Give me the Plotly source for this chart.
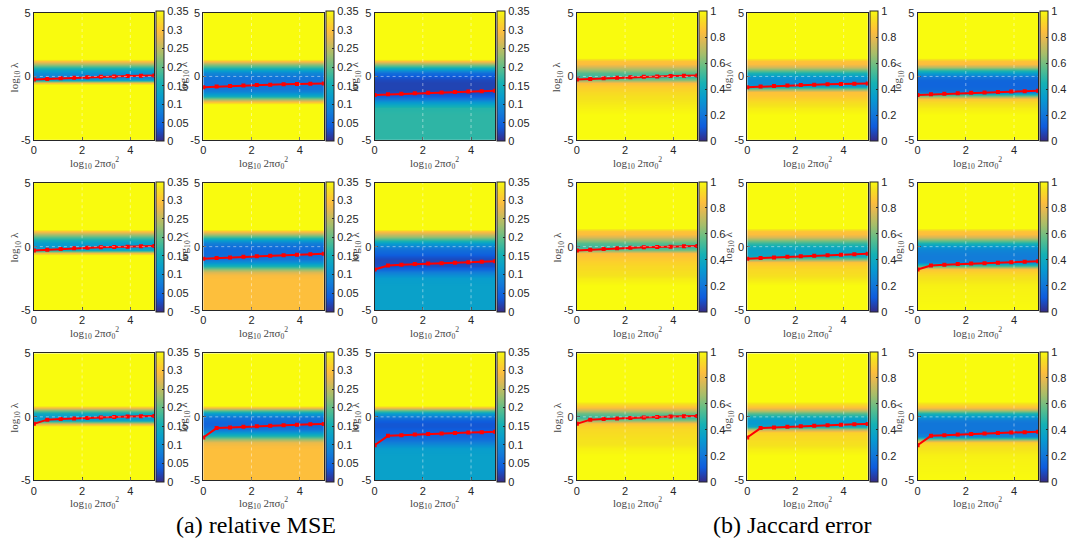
import plotly.graph_objects as go

# ---------------- data ----------------
# log10 lambda levels at which each heat-map profile is sampled (rows)
LAM = [-5, -3, -2.5, -2.25, -2, -1.75, -1.5, -1.25, -1, -0.75, -0.5, -0.25,
       0, 0.25, 0.5, 0.75, 1, 1.25, 1.5, 5]
# log10 2*pi*sigma0^2 columns of the heat maps
SIG_COLS = [0, 5]
# sigma positions of the optimum curve markers
SIG_PTS = [0, 0.556, 1.111, 1.667, 2.222, 2.778, 3.333, 3.889, 4.444, 5]

# relative MSE profiles (rows x cols of the 3x3 block)
mse_r1c1 = [0.4, 0.4, 0.4, 0.4, 0.4, 0.4, 0.4, 0.4, 0.4, 0.4, 0.3, 0.12, 0.08, 0.1, 0.13, 0.18, 0.24, 0.3, 0.4, 0.4]
mse_r1c2 = [0.4, 0.4, 0.4, 0.37, 0.3, 0.22, 0.14, 0.09, 0.07, 0.065, 0.065, 0.065, 0.07, 0.09, 0.13, 0.18, 0.23, 0.3, 0.4, 0.4]
mse_r1c3 = [0.17, 0.17, 0.165, 0.14, 0.11, 0.07, 0.04, 0.025, 0.02, 0.02, 0.02, 0.025, 0.035, 0.06, 0.11, 0.17, 0.23, 0.3, 0.4, 0.4]
mse_r2c1 = [0.4, 0.4, 0.4, 0.4, 0.4, 0.4, 0.4, 0.4, 0.4, 0.38, 0.3, 0.14, 0.11, 0.12, 0.15, 0.19, 0.24, 0.3, 0.4, 0.4]
mse_r2c2 = [0.295, 0.295, 0.295, 0.29, 0.27, 0.22, 0.16, 0.1, 0.07, 0.06, 0.055, 0.055, 0.06, 0.08, 0.12, 0.18, 0.24, 0.3, 0.4, 0.4]
mse_r2c3 = [0.125, 0.125, 0.12, 0.1, 0.08, 0.05, 0.03, 0.025, 0.025, 0.035, 0.05, 0.06, 0.08, 0.12, 0.17, 0.22, 0.26, 0.3, 0.4, 0.4]
mse_r3c1 = [0.4, 0.4, 0.4, 0.4, 0.4, 0.4, 0.4, 0.4, 0.4, 0.36, 0.26, 0.13, 0.11, 0.14, 0.21, 0.3, 0.4, 0.4, 0.4, 0.4]
mse_r3c2 = [0.295, 0.295, 0.295, 0.29, 0.28, 0.23, 0.17, 0.11, 0.07, 0.055, 0.05, 0.055, 0.07, 0.12, 0.2, 0.3, 0.4, 0.4, 0.4, 0.4]
mse_r3c3 = [0.125, 0.125, 0.12, 0.1, 0.08, 0.06, 0.05, 0.045, 0.04, 0.035, 0.035, 0.045, 0.07, 0.12, 0.2, 0.3, 0.4, 0.4, 0.4, 0.4]

# Jaccard error profiles
jac_r1c1 = [1, 1, 0.98, 0.97, 0.96, 0.95, 0.94, 0.92, 0.9, 0.88, 0.84, 0.62, 0.5, 0.55, 0.65, 0.75, 0.84, 0.86, 1, 1]
jac_r1c2 = [1, 1, 0.97, 0.95, 0.93, 0.9, 0.87, 0.85, 0.6, 0.32, 0.28, 0.28, 0.32, 0.45, 0.6, 0.75, 0.84, 0.86, 1, 1]
jac_r1c3 = [1, 1, 0.97, 0.95, 0.92, 0.87, 0.6, 0.2, 0.15, 0.14, 0.14, 0.15, 0.2, 0.35, 0.5, 0.7, 0.84, 0.86, 1, 1]
jac_r2c1 = [1, 1, 0.97, 0.95, 0.94, 0.93, 0.92, 0.9, 0.88, 0.86, 0.84, 0.6, 0.5, 0.55, 0.65, 0.76, 0.84, 0.86, 1, 1]
jac_r2c2 = [1, 1, 0.96, 0.94, 0.93, 0.92, 0.9, 0.86, 0.6, 0.4, 0.37, 0.37, 0.4, 0.5, 0.62, 0.76, 0.84, 0.86, 1, 1]
jac_r2c3 = [1, 0.98, 0.95, 0.93, 0.9, 0.86, 0.55, 0.25, 0.22, 0.22, 0.23, 0.25, 0.3, 0.45, 0.6, 0.75, 0.84, 0.86, 1, 1]
jac_r3c1 = [1, 1, 0.98, 0.96, 0.95, 0.95, 0.94, 0.93, 0.92, 0.9, 0.86, 0.62, 0.5, 0.58, 0.72, 0.85, 0.92, 1, 1, 1]
jac_r3c2 = [1, 1, 0.97, 0.95, 0.94, 0.93, 0.92, 0.9, 0.7, 0.38, 0.33, 0.33, 0.4, 0.55, 0.72, 0.85, 0.92, 1, 1, 1]
jac_r3c3 = [1, 0.98, 0.95, 0.93, 0.9, 0.6, 0.25, 0.2, 0.2, 0.2, 0.2, 0.22, 0.3, 0.45, 0.68, 0.85, 0.92, 1, 1, 1]

# optimum lambda curves (same for both metrics)
opt_r1c1 = [-0.25, -0.2, -0.15, -0.1, -0.06, -0.02, 0.0, 0.03, 0.05, 0.08]
opt_r1c2 = [-0.85, -0.8, -0.76, -0.72, -0.68, -0.65, -0.62, -0.6, -0.57, -0.55]
opt_r1c3 = [-1.45, -1.41, -1.37, -1.33, -1.29, -1.26, -1.22, -1.19, -1.16, -1.13]
opt_r2c1 = [-0.3, -0.24, -0.18, -0.13, -0.09, -0.05, -0.02, 0.0, 0.03, 0.05]
opt_r2c2 = [-0.95, -0.9, -0.85, -0.8, -0.76, -0.72, -0.68, -0.64, -0.6, -0.55]
opt_r2c3 = [-1.8, -1.48, -1.42, -1.37, -1.33, -1.3, -1.26, -1.22, -1.18, -1.15]
opt_r3c1 = [-0.55, -0.22, -0.17, -0.12, -0.08, -0.05, -0.01, 0.02, 0.05, 0.07]
opt_r3c2 = [-1.62, -0.88, -0.83, -0.78, -0.74, -0.7, -0.66, -0.62, -0.59, -0.56]
opt_r3c3 = [-2.23, -1.49, -1.44, -1.39, -1.35, -1.31, -1.27, -1.23, -1.2, -1.17]

X_TICKS = [0, 2, 4]
Y_TICKS = [-5, 0, 5]
Y_TICKTEXT = ["-5", "0", "5"]
MSE_CB_TICKS = [0, 0.05, 0.1, 0.15, 0.2, 0.25, 0.3, 0.35]
MSE_CB_TEXT = ["0", "0.05", "0.1", "0.15", "0.2", "0.25", "0.3", "0.35"]
JAC_CB_TICKS = [0, 0.2, 0.4, 0.6, 0.8, 1]
JAC_CB_TEXT = ["0", "0.2", "0.4", "0.6", "0.8", "1"]
CAPTIONS = ["(a) relative MSE", "(b) Jaccard error"]

MSE = [[mse_r1c1, mse_r1c2, mse_r1c3], [mse_r2c1, mse_r2c2, mse_r2c3], [mse_r3c1, mse_r3c2, mse_r3c3]]
JAC = [[jac_r1c1, jac_r1c2, jac_r1c3], [jac_r2c1, jac_r2c2, jac_r2c3], [jac_r3c1, jac_r3c2, jac_r3c3]]
OPT = [[opt_r1c1, opt_r1c2, opt_r1c3], [opt_r2c1, opt_r2c2, opt_r2c3], [opt_r3c1, opt_r3c2, opt_r3c3]]

# ---------------- styling / layout ----------------
PARULA = [
    [0.0, "#352a87"], [0.111, "#0f5cdd"], [0.222, "#127dd8"], [0.333, "#079ccf"],
    [0.444, "#15b1b4"], [0.556, "#59bd8c"], [0.667, "#a5be6b"], [0.778, "#e1b952"],
    [0.841, "#fdbe3d"], [0.889, "#fcce2e"], [0.952, "#f5e41d"], [1.0, "#f9fb0e"],
]
W, H = 1070, 552
COL_LEFT = [31, 201, 373, 576, 747, 918]
PW = 121
ROW_TOP = [7, 181, 355]
PH = 130
INK = "#262626"
SANS = "Liberation Sans, Arial, sans-serif"
SERIF = "Liberation Serif, Times New Roman, serif"


def px_x(p):
    return p / W


def px_y(p):
    return 1 - p / H


fig = go.Figure()
layout = dict(width=W, height=H, margin=dict(l=0, r=0, t=0, b=0),
              paper_bgcolor="white", plot_bgcolor="white", showlegend=False)
shapes = []
annotations = []

n = 0
for g, (data, zmax, cbt, cbtext) in enumerate([(MSE, 0.35, MSE_CB_TICKS, MSE_CB_TEXT),
                                               (JAC, 1.0, JAC_CB_TICKS, JAC_CB_TEXT)]):
    for r in range(3):
        for c in range(3):
            n += 1
            xs = "x" if n == 1 else f"x{n}"
            ys = "y" if n == 1 else f"y{n}"
            left = COL_LEFT[3 * g + c]
            top = ROW_TOP[r]
            prof = data[r][c]
            z = [[v for _ in SIG_COLS] for v in prof]
            fig.add_trace(go.Heatmap(
                x=SIG_COLS, y=LAM, z=z, zmin=0, zmax=zmax, zsmooth="best",
                colorscale=PARULA, xaxis=xs, yaxis=ys, hoverinfo="skip",
                colorbar=dict(
                    x=px_x(left + PW + 2), xanchor="left", xpad=0,
                    y=px_y(top + PH / 2), yanchor="middle", ypad=0,
                    len=PH, lenmode="pixels", thickness=8, thicknessmode="pixels",
                    outlinecolor=INK, outlinewidth=1,
                    tickvals=cbt, ticktext=cbtext, ticks="inside", ticklen=2,
                    tickcolor=INK, tickfont=dict(family=SANS, size=11, color=INK),
                ),
            ))
            fig.add_trace(go.Scatter(
                x=SIG_PTS, y=OPT[r][c], mode="lines+markers", xaxis=xs, yaxis=ys,
                line=dict(color="#ff0000", width=2),
                marker=dict(symbol="square", size=4, color="#ff0000"),
                hoverinfo="skip",
            ))
            ax_common = dict(showline=True, mirror=True, linecolor=INK, linewidth=1,
                             ticks="inside", ticklen=3, tickcolor=INK, showgrid=False,
                             zeroline=False, layer="above traces", fixedrange=True,
                             tickfont=dict(family=SANS, size=11, color=INK))
            layout["xaxis" if n == 1 else f"xaxis{n}"] = dict(
                domain=[px_x(left), px_x(left + PW)], anchor=ys, range=[0, 5],
                tickvals=X_TICKS, **ax_common)
            layout["yaxis" if n == 1 else f"yaxis{n}"] = dict(
                domain=[px_y(top + PH), px_y(top)], anchor=xs, range=[-5, 5],
                tickvals=Y_TICKS, ticktext=Y_TICKTEXT, **ax_common)
            # MATLAB-style faint dotted grid
            for gx in X_TICKS[1:]:
                shapes.append(dict(type="line", xref=xs, yref=ys, x0=gx, x1=gx, y0=-5, y1=5,
                                   line=dict(color="rgba(255,255,255,0.45)", width=1, dash="dot"),
                                   layer="above"))
            shapes.append(dict(type="line", xref=xs, yref=ys, x0=0, x1=5, y0=0, y1=0,
                               line=dict(color="rgba(255,255,255,0.45)", width=1, dash="dot"),
                               layer="above"))
            # axis titles
            annotations.append(dict(
                x=px_x(left + PW / 2), y=px_y(top + PH + 23), xref="paper", yref="paper",
                text="log<sub>10</sub> 2πσ<sub>0</sub><sup>2</sup>", showarrow=False,
                xanchor="center", yanchor="middle",
                font=dict(family=SERIF, size=11, color="#444444")))
            annotations.append(dict(
                x=px_x(left - 19), y=px_y(top + PH / 2), xref="paper", yref="paper",
                text="log<sub>10</sub> λ", showarrow=False, textangle=-90,
                xanchor="center", yanchor="middle",
                font=dict(family=SERIF, size=11, color="#444444")))

for g, cap in enumerate(CAPTIONS):
    annotations.append(dict(
        x=px_x([254, 792][g]), y=px_y(531), xref="paper", yref="paper", text=cap,
        showarrow=False, xanchor="center", yanchor="middle",
        font=dict(family=SERIF, size=24, color="black")))

layout["shapes"] = shapes
layout["annotations"] = annotations
fig.update_layout(**layout)
fig.write_html("out.html", config={"displayModeBar": False})
